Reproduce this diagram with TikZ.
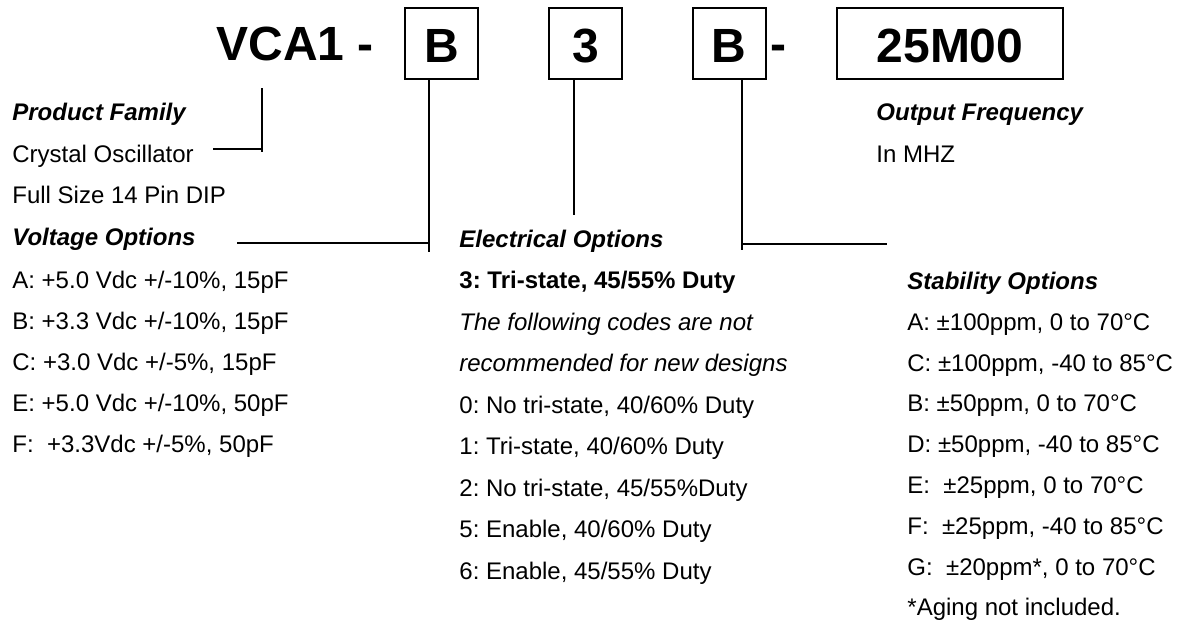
\documentclass[tikz,border=0pt]{standalone}
\usepackage{fontspec}
\setmainfont{Liberation Sans}
\usepackage{tikz}
\usetikzlibrary{positioning}
\frenchspacing

\begin{document}
\begin{tikzpicture}[
    x=0.5pt, y=-0.5pt,
    code/.style={draw, line width=1pt, minimum width=36.5pt, minimum height=35.5pt, inner sep=0pt, text height=19pt, text depth=0pt, font=\fontsize{24}{28}\selectfont\bfseries},
    title/.style={anchor=base west, inner sep=0pt, font=\fontsize{24}{28}\selectfont\bfseries},
    head/.style={anchor=base west, inner sep=0pt, font=\fontsize{12}{14}\selectfont\bfseries\itshape},
    item/.style={anchor=base west, inner sep=0pt, font=\fontsize{12}{14}\selectfont},
    note/.style={item, font=\fontsize{12}{14}\selectfont\itshape},
    link/.style={line width=1pt}
]

\path[use as bounding box] (0,0) rectangle (1177,629);

% part number
\node[title] (model) at (216,60) {VCA1 -};
\node[code] (vbox) at (441.5,43.5) {B};
\node[code] (ebox) at (585.5,43.5) {3};
\node[code] (sbox) at (729,43.5) {B};
\node[title] (dash) at (770,60) {-};
\node[code, minimum width=113pt] (fbox) at (950,43.5) {25M00};

% product family
\node[head] (famhead) at (12,120) {Product Family};
\node[item] (fam1) at (12,162) {Crystal Oscillator};
\node[item] (fam2) at (12,203) {Full Size 14 Pin DIP};

% voltage options
\node[head] (volthead) at (12,245) {Voltage Options};
\node[item] (volta) at (12,288) {A: +5.0 Vdc +/-10\%, 15pF};
\node[item] (voltb) at (12,329) {B: +3.3 Vdc +/-10\%, 15pF};
\node[item] (voltc) at (12,370) {C: +3.0 Vdc +/-5\%, 15pF};
\node[item] (volte) at (12,411) {E: +5.0 Vdc +/-10\%, 50pF};
\node[item] (voltf) at (12,452) {F: \ +3.3Vdc +/-5\%, 50pF};

% electrical options
\node[head] (elechead) at (459,247) {Electrical Options};
\node[item, font=\fontsize{12}{14}\selectfont\bfseries] (elec3) at (459,288.5) {3: Tri-state, 45/55\% Duty};
\node[note] (elecnote1) at (459,330) {The following codes are not};
\node[note] (elecnote2) at (459,371.5) {recommended for new designs};
\node[item] (elec0) at (459,413) {0: No tri-state, 40/60\% Duty};
\node[item] (elec1) at (459,454.5) {1: Tri-state, 40/60\% Duty};
\node[item] (elec2) at (459,496) {2: No tri-state, 45/55\%Duty};
\node[item] (elec5) at (459,537.5) {5: Enable, 40/60\% Duty};
\node[item] (elec6) at (459,579) {6: Enable, 45/55\% Duty};

% output frequency
\node[head] (freqhead) at (876,120) {Output Frequency};
\node[item] (freq1) at (876,162) {In MHZ};

% stability options
\node[head] (stabhead) at (907,289) {Stability Options};
\node[item] (staba) at (907,330) {A: ±100ppm, 0 to 70°C};
\node[item] (stabc) at (907,371) {C: ±100ppm, -40 to 85°C};
\node[item] (stabb) at (907,411) {B: ±50ppm, 0 to 70°C};
\node[item] (stabd) at (907,452) {D: ±50ppm, -40 to 85°C};
\node[item] (stabe) at (907,493) {E: \ ±25ppm, 0 to 70°C};
\node[item] (stabf) at (907,534) {F: \ ±25ppm, -40 to 85°C};
\node[item] (stabg) at (907,575) {G: \ ±20ppm*, 0 to 70°C};
\node[item] (stabnote) at (907,615) {*Aging not included.};

% leader lines
\coordinate (famtop) at (262,88);
\coordinate (famend) at (262,152);
\coordinate (famtick) at (213,149);
\draw[link] (famtop) -- (famend);
\draw[link] (famtick) -- (famtick -| famtop);

\coordinate (voltend) at (429,252);
\coordinate (volttick) at (237,243);
\draw[link] (vbox.south -| voltend) -- (voltend);
\draw[link] (volttick) -- (volttick -| voltend);

\coordinate (elecend) at (574,215);
\draw[link] (ebox.south -| elecend) -- (elecend);

\coordinate (stabend) at (742,250);
\coordinate (stabtick) at (887,244);
\draw[link] (sbox.south -| stabend) -- (stabend);
\draw[link] (stabtick -| stabend) -- (stabtick);

\end{tikzpicture}
\end{document}
